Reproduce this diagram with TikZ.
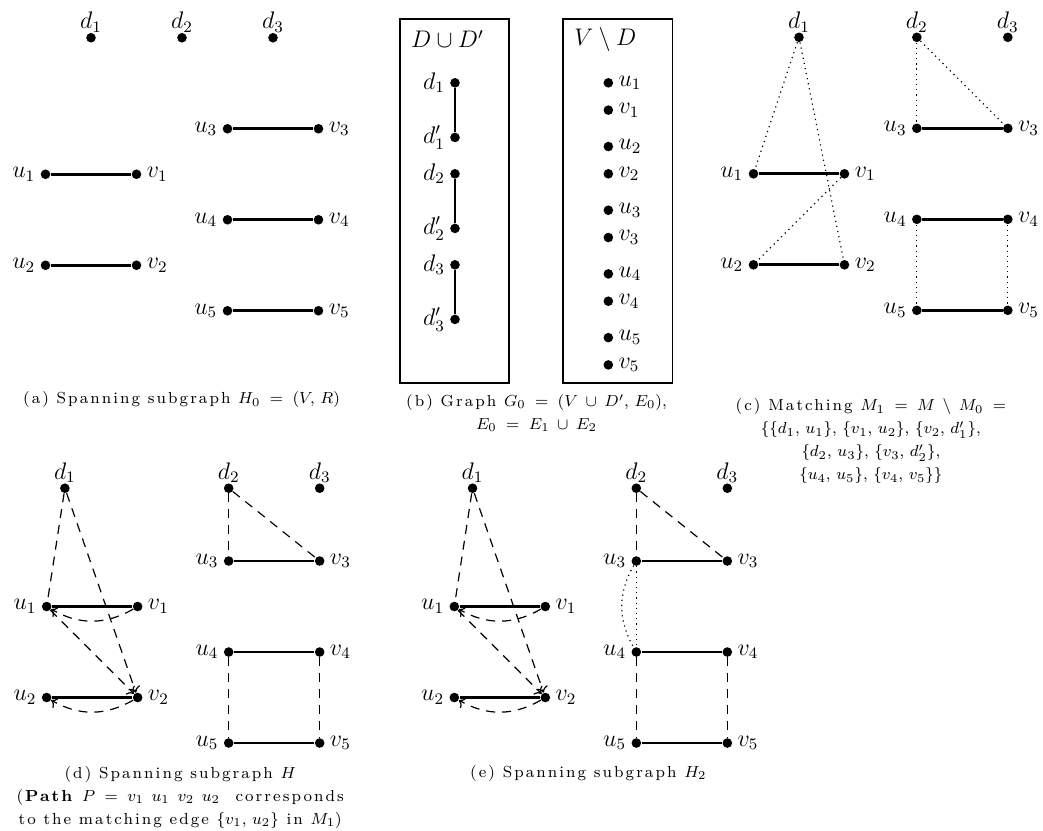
\documentclass[tikz,border=0pt]{standalone}
\usepackage{amsmath}
\usepackage{amssymb}
\usepackage{fontspec}
\usepackage{tikz}
\usetikzlibrary{arrows.meta,calc,positioning}

\newfontfamily\spacedrm{lmroman8-regular.otf}[LetterSpace=13, BoldFont=lmroman8-bold.otf]
\newcommand{\captfont}{\spacedrm\fontsize{8}{11.5}\selectfont
  \thinmuskip=6mu\relax\medmuskip=8mu\relax\thickmuskip=10mu\relax}

\begin{document}
\begin{tikzpicture}[x=0.8cm, y=-0.8cm,
  vertex/.style={circle, fill, inner sep=0pt, minimum size=4.8pt},
  lbl/.style={font=\fontsize{11.5}{14}\selectfont},
  every label/.style={lbl},
  label distance=-1pt,
  dtop/.style={label={[label distance=-3.5pt]above:#1}},
  matched/.style={line width=1.45pt},
  dashedge/.style={line width=0.6pt, dash pattern=on 4.5pt off 3.5pt},
  dotedge/.style={line width=0.6pt, dotted},
  capt/.style={font=\captfont, align=center}]
  \useasboundingbox (0,0) rectangle (22.923,18.242);

  % (a) spanning subgraph H_0
  \begin{scope}[shift={(1.0,0.83)}]
    \node[vertex, dtop=$d_1$] (a-d1) at (1,0) {};
    \node[vertex, dtop=$d_2$] (a-d2) at (3,0) {};
    \node[vertex, dtop=$d_3$] (a-d3) at (5,0) {};
    \node[vertex, label=left:$u_1$] (a-u1) at (0,3) {};
    \node[vertex, label=right:$v_1$] (a-v1) at (2,3) {};
    \node[vertex, label=left:$u_2$] (a-u2) at (0,5) {};
    \node[vertex, label=right:$v_2$] (a-v2) at (2,5) {};
    \node[vertex, label=left:$u_3$] (a-u3) at (4,2) {};
    \node[vertex, label=right:$v_3$] (a-v3) at (6,2) {};
    \node[vertex, label=left:$u_4$] (a-u4) at (4,4) {};
    \node[vertex, label=right:$v_4$] (a-v4) at (6,4) {};
    \node[vertex, label=left:$u_5$] (a-u5) at (4,6) {};
    \node[vertex, label=right:$v_5$] (a-v5) at (6,6) {};
    \draw[matched] (a-u1) -- (a-v1);
    \draw[matched] (a-u2) -- (a-v2);
    \draw[matched] (a-u3) -- (a-v3);
    \draw[matched] (a-u4) -- (a-v4);
    \draw[matched] (a-u5) -- (a-v5);
  \end{scope}
  \node[capt] (cap-a) at (3.99,8.79) {(a) Spanning subgraph $H_0 = (V, R)$};

  % (b) graph G_0
  \draw[line width=0.9pt] (8.79,0.424) rectangle (11.19,8.41);
  \draw[line width=0.9pt] (12.38,0.424) rectangle (14.78,8.41);
  \node[lbl, anchor=west] (b-dd) at (8.88,0.86) {$D \cup D'$};
  \node[lbl, anchor=west] (b-vd) at (12.47,0.86) {$V \setminus D$};
  \node[vertex, label=left:$d_1$] (b-d1) at (10.0,1.82) {};
  \node[vertex, label=left:$d'_1$] (b-e1) at (10.0,3.02) {};
  \node[vertex, label=left:$d_2$] (b-d2) at (10.0,3.82) {};
  \node[vertex, label=left:$d'_2$] (b-e2) at (10.0,5.02) {};
  \node[vertex, label=left:$d_3$] (b-d3) at (10.0,5.82) {};
  \node[vertex, label=left:$d'_3$] (b-e3) at (10.0,7.02) {};
  \draw[matched] (b-d1) -- (b-e1);
  \draw[matched] (b-d2) -- (b-e2);
  \draw[matched] (b-d3) -- (b-e3);
  \node[vertex, label=right:$u_1$] (b-u1) at (13.37,1.82) {};
  \node[vertex, label=right:$v_1$] (b-v1) at (13.37,2.42) {};
  \node[vertex, label=right:$u_2$] (b-u2) at (13.37,3.22) {};
  \node[vertex, label=right:$v_2$] (b-v2) at (13.37,3.82) {};
  \node[vertex, label=right:$u_3$] (b-u3) at (13.37,4.62) {};
  \node[vertex, label=right:$v_3$] (b-v3) at (13.37,5.22) {};
  \node[vertex, label=right:$u_4$] (b-u4) at (13.37,6.02) {};
  \node[vertex, label=right:$v_4$] (b-v4) at (13.37,6.62) {};
  \node[vertex, label=right:$u_5$] (b-u5) at (13.37,7.42) {};
  \node[vertex, label=right:$v_5$] (b-v5) at (13.37,8.02) {};
  \node[capt] (cap-b) at (11.79,9.08) {(b) Graph $G_0 = (V \cup D', E_0)$,\\ $E_0 = E_1 \cup E_2$};

  % (c) matching M_1
  \begin{scope}[shift={(16.56,0.82)}]
    \node[vertex, dtop=$d_1$] (c-d1) at (1,0) {};
    \node[vertex, dtop=$d_2$] (c-d2) at (3.59,0) {};
    \node[vertex, dtop=$d_3$] (c-d3) at (5.59,0) {};
    \node[vertex, label=left:$u_1$] (c-u1) at (0,3) {};
    \node[vertex, label=right:$v_1$] (c-v1) at (2,3) {};
    \node[vertex, label=left:$u_2$] (c-u2) at (0,5) {};
    \node[vertex, label=right:$v_2$] (c-v2) at (2,5) {};
    \node[vertex, label=left:$u_3$] (c-u3) at (3.59,2) {};
    \node[vertex, label=right:$v_3$] (c-v3) at (5.59,2) {};
    \node[vertex, label=left:$u_4$] (c-u4) at (3.59,4) {};
    \node[vertex, label=right:$v_4$] (c-v4) at (5.59,4) {};
    \node[vertex, label=left:$u_5$] (c-u5) at (3.59,6) {};
    \node[vertex, label=right:$v_5$] (c-v5) at (5.59,6) {};
    \draw[matched] (c-u1) -- (c-v1);
    \draw[matched] (c-u2) -- (c-v2);
    \draw[matched] (c-u3) -- (c-v3);
    \draw[matched] (c-u4) -- (c-v4);
    \draw[matched] (c-u5) -- (c-v5);
    % edges of M_1
    \draw[dotedge] (c-d1) -- (c-u1);
    \draw[dotedge] (c-d1) -- (c-v2);
    \draw[dotedge] (c-v1) -- (c-u2);
    \draw[dotedge] (c-d2) -- (c-u3);
    \draw[dotedge] (c-d2) -- (c-v3);
    \draw[dotedge] (c-u4) -- (c-u5);
    \draw[dotedge] (c-v4) -- (c-v5);
  \end{scope}
  \node[capt] (cap-c) at (19.14,9.7) {(c) Matching $M_1 = M \setminus M_0 =$\\
    $\{\{d_1, u_1\}, \{v_1, u_2\}, \{v_2, d'_1\},$\\
    $\{d_2, u_3\}, \{v_3, d'_2\},$\\
    $\{u_4, u_5\}, \{v_4, v_5\}\}$};

  % (d) spanning subgraph H
  \begin{scope}[shift={(1.026,10.73)}]
    \node[vertex, dtop=$d_1$] (d-d1) at (0.4,0) {};
    \node[vertex, dtop=$d_2$] (d-d2) at (4,0) {};
    \node[vertex, dtop=$d_3$] (d-d3) at (6,0) {};
    \node[vertex, label=left:$u_1$] (d-u1) at (0,2.6) {};
    \node[vertex, label=right:$v_1$] (d-v1) at (2,2.6) {};
    \node[vertex, label=left:$u_2$] (d-u2) at (0,4.6) {};
    \node[vertex, label=right:$v_2$] (d-v2) at (2,4.6) {};
    \node[vertex, label=left:$u_3$] (d-u3) at (4,1.6) {};
    \node[vertex, label=right:$v_3$] (d-v3) at (6,1.6) {};
    \node[vertex, label=left:$u_4$] (d-u4) at (4,3.6) {};
    \node[vertex, label=right:$v_4$] (d-v4) at (6,3.6) {};
    \node[vertex, label=left:$u_5$] (d-u5) at (4,5.6) {};
    \node[vertex, label=right:$v_5$] (d-v5) at (6,5.6) {};
    \draw[matched] (d-u1) -- (d-v1);
    \draw[matched] (d-u2) -- (d-v2);
    \draw[matched] (d-u3) -- (d-v3);
    \draw[matched] (d-u4) -- (d-v4);
    \draw[matched] (d-u5) -- (d-v5);
    % path P and the other edges
    \draw[dashedge] (d-d1) -- (d-u1);
    \draw[dashedge, ->] (d-d1) -- (d-v2);
    \draw[dashedge, ->] (d-v1) to[bend left=30] (d-u1);
    \draw[dashedge, ->] (d-u1) -- (d-v2);
    \draw[dashedge, ->] (d-v2) to[bend left=30] (d-u2);
    \draw[dashedge] (d-d2) -- (d-u3);
    \draw[dashedge] (d-d2) -- (d-v3);
    \draw[dashedge] (d-u4) -- (d-u5);
    \draw[dashedge] (d-v4) -- (d-v5);
  \end{scope}
  \node[capt] (cap-d) at (3.96,17.53) {(d) Spanning subgraph $H$\\
    (\textbf{Path} $P = v_1\ u_1\ v_2\ u_2$\ \ corresponds\\
    to the matching edge $\{v_1, u_2\}$ in $M_1$)};

  % (e) spanning subgraph H_2
  \begin{scope}[shift={(9.985,10.73)}]
    \node[vertex, dtop=$d_1$] (e-d1) at (0.4,0) {};
    \node[vertex, dtop=$d_2$] (e-d2) at (4,0) {};
    \node[vertex, dtop=$d_3$] (e-d3) at (6,0) {};
    \node[vertex, label=left:$u_1$] (e-u1) at (0,2.6) {};
    \node[vertex, label=right:$v_1$] (e-v1) at (2,2.6) {};
    \node[vertex, label=left:$u_2$] (e-u2) at (0,4.6) {};
    \node[vertex, label=right:$v_2$] (e-v2) at (2,4.6) {};
    \node[vertex, label=left:$u_3$] (e-u3) at (4,1.6) {};
    \node[vertex, label=right:$v_3$] (e-v3) at (6,1.6) {};
    \node[vertex, label=left:$u_4$] (e-u4) at (4,3.6) {};
    \node[vertex, label=right:$v_4$] (e-v4) at (6,3.6) {};
    \node[vertex, label=left:$u_5$] (e-u5) at (4,5.6) {};
    \node[vertex, label=right:$v_5$] (e-v5) at (6,5.6) {};
    \draw[matched] (e-u1) -- (e-v1);
    \draw[matched] (e-u2) -- (e-v2);
    \draw[matched] (e-u3) -- (e-v3);
    \draw[matched] (e-u4) -- (e-v4);
    \draw[matched] (e-u5) -- (e-v5);
    \draw[dashedge] (e-d1) -- (e-u1);
    \draw[dashedge, ->] (e-d1) -- (e-v2);
    \draw[dashedge, ->] (e-v1) to[bend left=30] (e-u1);
    \draw[dashedge, ->] (e-u1) -- (e-v2);
    \draw[dashedge, ->] (e-v2) to[bend left=30] (e-u2);
    \draw[dashedge] (e-d2) -- (e-u3);
    \draw[dashedge] (e-d2) -- (e-v3);
    \draw[dashedge] (e-u4) -- (e-u5);
    \draw[dashedge] (e-v4) -- (e-v5);
    % the two u_3 u_4 edges
    \draw[dotedge] (e-u3) -- (e-u4);
    \draw[dotedge] (e-u3) to[bend right=30] (e-u4);
  \end{scope}
  \node[capt] (cap-e) at (12.93,17.0) {(e) Spanning subgraph $H_2$};
\end{tikzpicture}
\end{document}
